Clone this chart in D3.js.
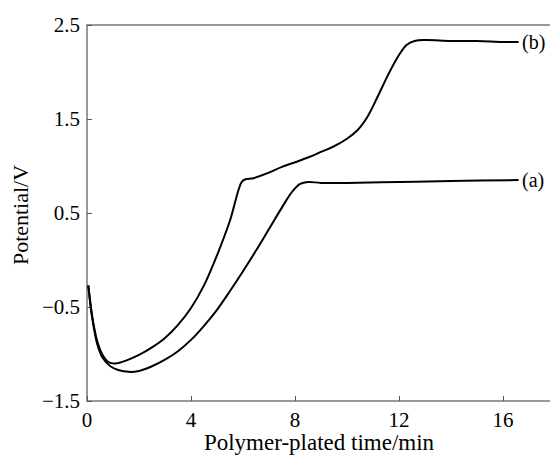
<!DOCTYPE html>
<html>
<head>
<meta charset="utf-8">
<script src="https://cdn.jsdelivr.net/npm/d3@7"></script>
<style>
  body { margin: 0; background: #fff; }
  svg { font-family: "Liberation Serif", "DejaVu Serif", serif; }
</style>
</head>
<body>
<svg id="chart" width="550" height="457"></svg>
<script>
// curve (a)
const timeA = [0.05, 0.15, 0.25, 0.4, 0.6, 0.9, 1.2, 1.6, 2.0, 2.5, 3.0, 3.5, 4.0, 4.5, 5.0, 5.5, 6.0, 6.5, 7.0, 7.5, 7.9, 8.2, 8.5, 9.0, 10.0, 12.0, 14.0, 16.6];
const potA = [-0.27, -0.52, -0.70, -0.90, -1.04, -1.13, -1.17, -1.19, -1.18, -1.13, -1.06, -0.97, -0.85, -0.70, -0.53, -0.33, -0.12, 0.10, 0.33, 0.56, 0.73, 0.81, 0.83, 0.82, 0.82, 0.83, 0.84, 0.85];
// curve (b)
const timeB = [0.05, 0.15, 0.25, 0.4, 0.6, 0.85, 1.1, 1.5, 2.0, 2.5, 3.0, 3.5, 4.0, 4.5, 5.0, 5.5, 5.95, 6.1, 6.4, 7.0, 7.5, 8.0, 8.5, 9.0, 9.5, 10.0, 10.4, 10.8, 11.2, 11.6, 12.0, 12.3, 12.6, 13.0, 14.0, 15.0, 16.0, 16.6];
const potB = [-0.27, -0.50, -0.68, -0.87, -1.01, -1.09, -1.10, -1.07, -1.01, -0.93, -0.83, -0.69, -0.51, -0.27, 0.05, 0.42, 0.83, 0.86, 0.87, 0.93, 0.99, 1.04, 1.09, 1.15, 1.21, 1.29, 1.38, 1.53, 1.75, 1.98, 2.18, 2.29, 2.33, 2.34, 2.33, 2.33, 2.32, 2.32];

const xTicks = [0, 4, 8, 12, 16];
const yTicks = [-1.5, -0.5, 0.5, 1.5, 2.5];

const svg = d3.select("#chart");

const x = d3.scaleLinear().domain([0, 18]).range([87, 555]);
const y = d3.scaleLinear().domain([-1.5, 2.5]).range([401, 25]);

const fmt = d => (d < 0 ? "\u2212" + Math.abs(d).toFixed(1) : d.toFixed(1));

// frame (right side falls outside the picture)
svg.append("rect")
    .attr("x", x(0))
    .attr("y", y(2.5))
    .attr("width", x(18) - x(0) + 10)
    .attr("height", y(-1.5) - y(2.5))
    .style("fill", "none")
    .style("stroke", "#777")
    .style("stroke-width", 1.5);

// x axis
const xAxis = svg.append("g")
    .attr("transform", `translate(0, ${y(-1.5)})`)
    .call(d3.axisTop(x).tickValues(xTicks).tickSize(5).tickFormat(""));
xAxis.select(".domain").remove();
xAxis.selectAll("line").attr("stroke", "#555");

svg.append("g").selectAll("text")
    .data(xTicks)
    .join("text")
    .attr("x", d => x(d))
    .attr("y", 427)
    .attr("text-anchor", "middle")
    .style("font-size", "21px")
    .text(d => d);

// y axis
const yAxis = svg.append("g")
    .attr("transform", `translate(${x(0)}, 0)`)
    .call(d3.axisRight(y).tickValues(yTicks).tickSize(5).tickFormat(""));
yAxis.select(".domain").remove();
yAxis.selectAll("line").attr("stroke", "#555");

svg.append("g").selectAll("text")
    .data(yTicks)
    .join("text")
    .attr("x", 80)
    .attr("y", d => y(d) + 7)
    .attr("text-anchor", "end")
    .style("font-size", "21px")
    .text(d => fmt(d));

// axis titles
svg.append("text")
    .attr("x", 319)
    .attr("y", 450)
    .attr("text-anchor", "middle")
    .style("font-size", "23px")
    .text("Polymer-plated time/min");

svg.append("text")
    .attr("transform", "translate(28, 215) rotate(-90)")
    .attr("text-anchor", "middle")
    .style("font-size", "22px")
    .text("Potential/V");

// curves
const line = d3.line()
    .x(d => x(d[0]))
    .y(d => y(d[1]))
    .curve(d3.curveCatmullRom.alpha(0.5));

svg.append("path")
    .datum(d3.zip(timeA, potA))
    .attr("fill", "none")
    .attr("stroke", "black")
    .attr("stroke-width", 2)
    .attr("d", line);

svg.append("path")
    .datum(d3.zip(timeB, potB))
    .attr("fill", "none")
    .attr("stroke", "black")
    .attr("stroke-width", 2)
    .attr("d", line);

// curve labels
svg.append("text")
    .attr("x", 522)
    .attr("y", y(potA[potA.length - 1]) + 7)
    .style("font-size", "20px")
    .text("(a)");

svg.append("text")
    .attr("x", 522)
    .attr("y", y(potB[potB.length - 1]) + 7)
    .style("font-size", "20px")
    .text("(b)");
</script>
</body>
</html>
